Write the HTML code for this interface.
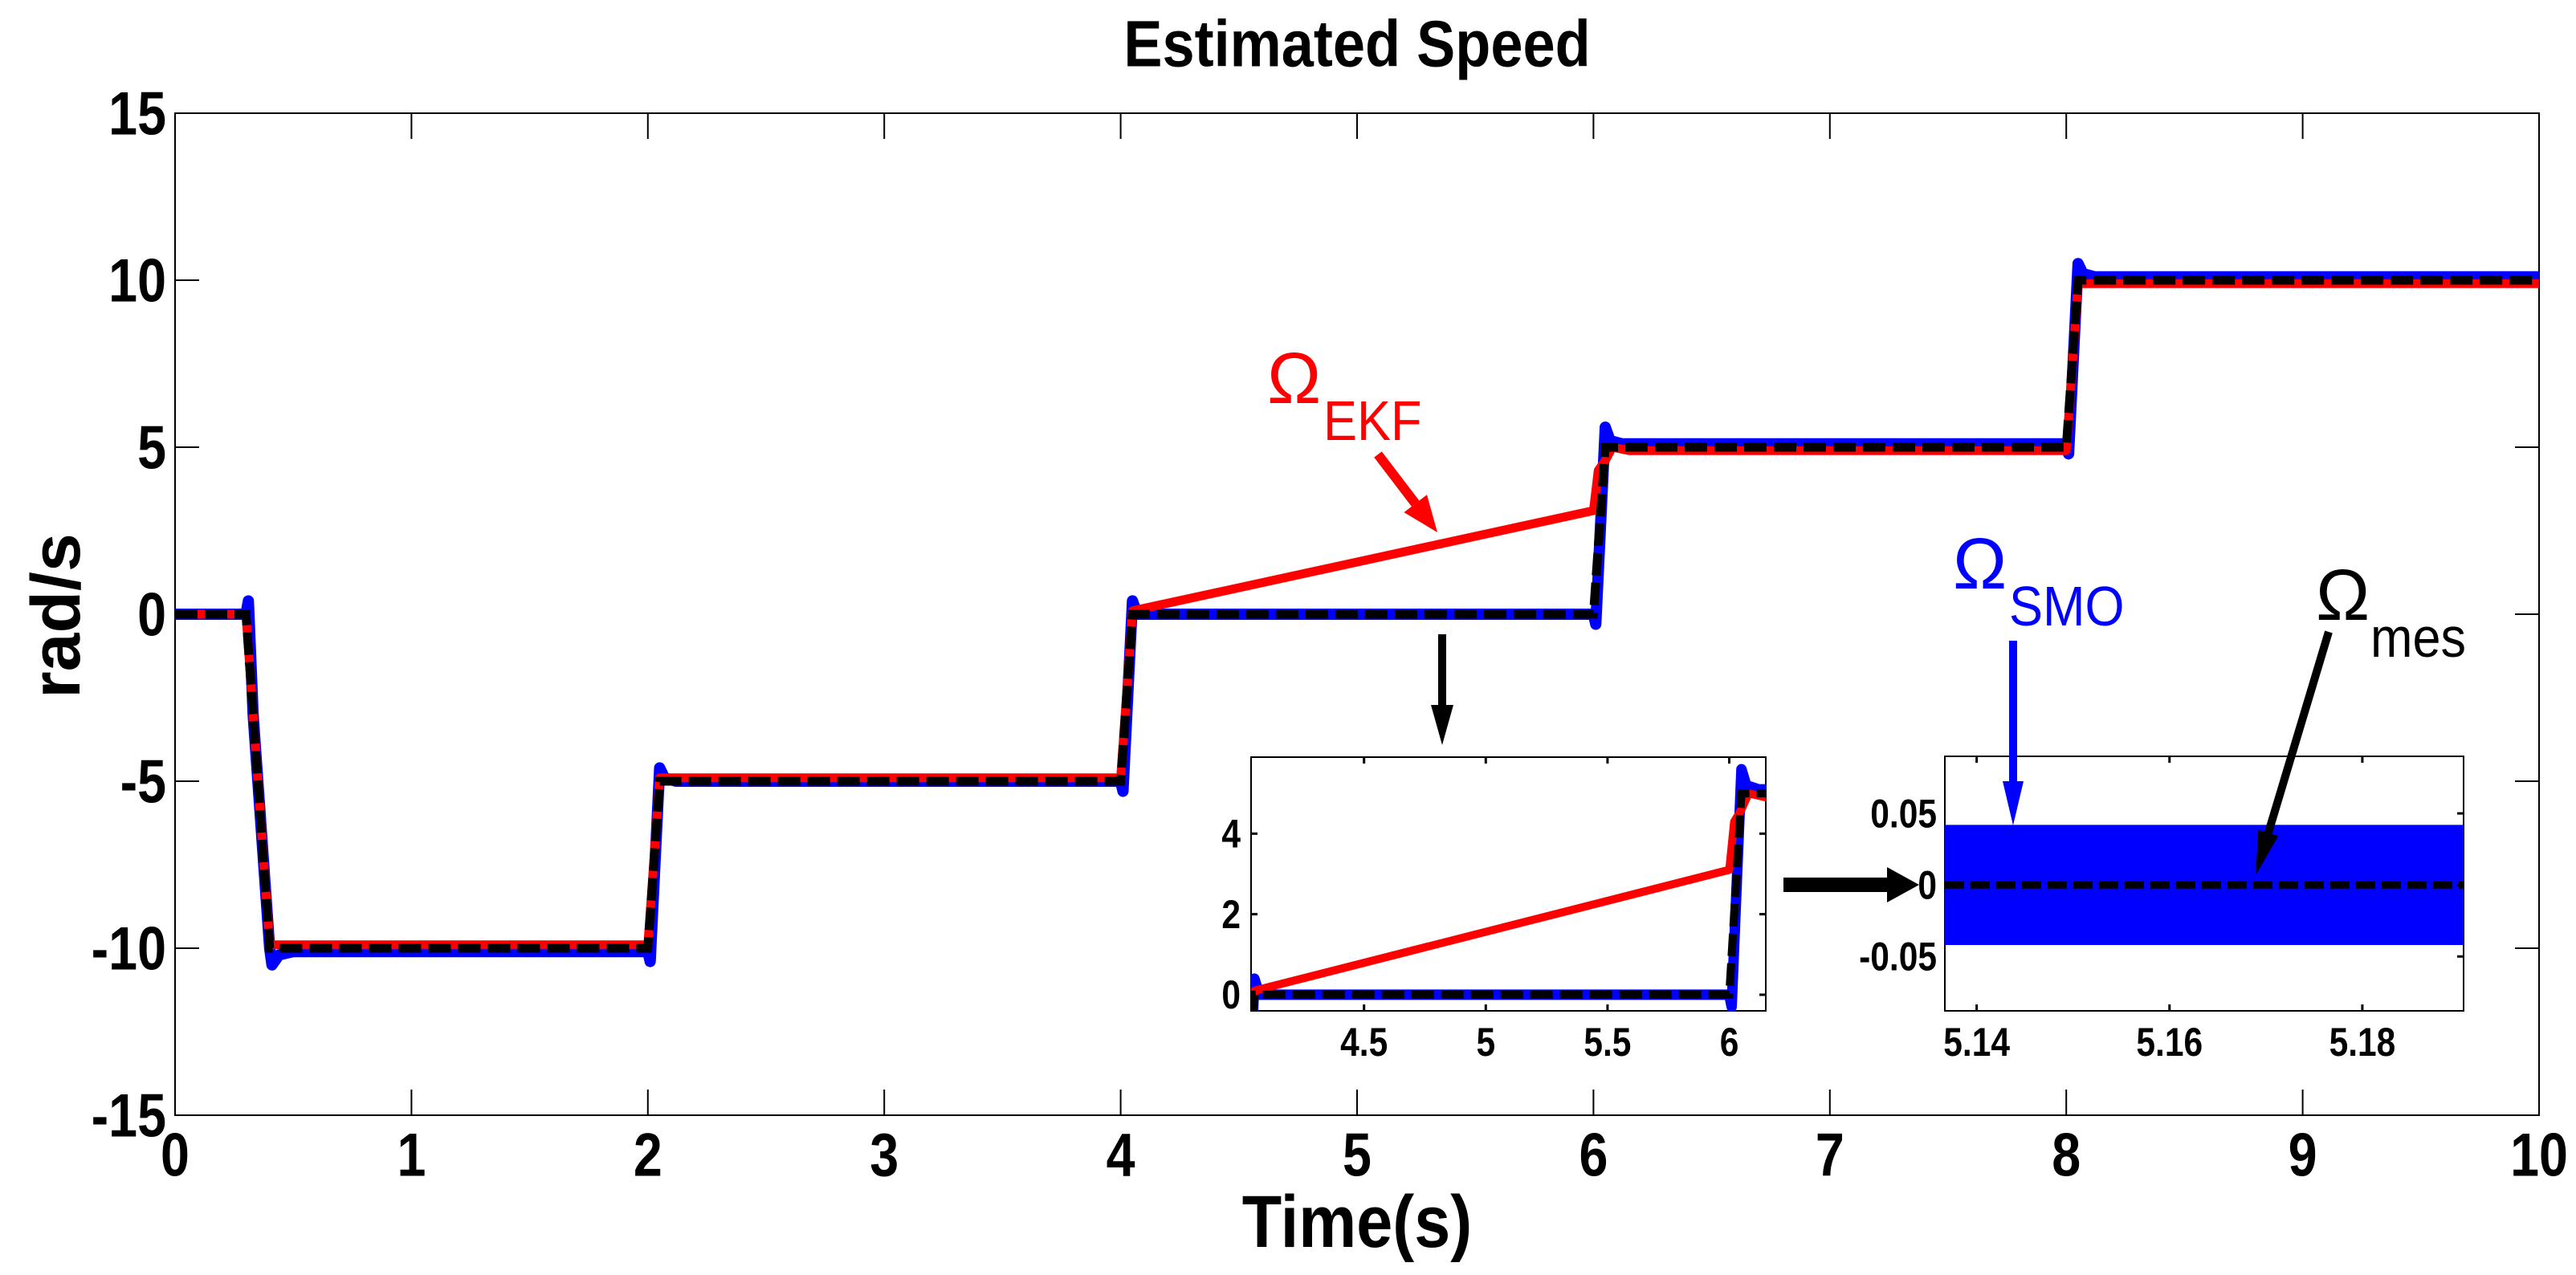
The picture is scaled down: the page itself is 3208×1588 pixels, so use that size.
<!DOCTYPE html>
<html><head><meta charset="utf-8"><style>
html,body{margin:0;padding:0;background:#fff;overflow:hidden;width:3208px;height:1588px;}
svg{display:block;}
text{font-family:"Liberation Sans",sans-serif;}
</style></head><body>
<svg id="chart" width="3208" height="1588" viewBox="0 0 3208 1588" xmlns="http://www.w3.org/2000/svg">
<rect width="3208" height="1588" fill="#fff"/>
<defs>
<clipPath id="clipMain"><rect x="218" y="141" width="2944" height="1248"/></clipPath>
<clipPath id="clipIn1"><rect x="1558" y="943" width="641" height="316"/></clipPath>
<clipPath id="clipIn2"><rect x="2422" y="942" width="646" height="317"/></clipPath>
</defs>
<g id="main"></g>
<g id="inset1"></g>
<g id="inset2"></g>
<g id="annot"></g>
</svg>
<script>
// ---- data ----
const mainXTicks = [0,1,2,3,4,5,6,7,8,9,10];
const mainYTicks = [-15,-10,-5,0,5,10,15];
const mesT = [0,0.30,0.40,2.00,2.05,4.00,4.05,6.00,6.05,8.00,8.05,10];
const mesV = [0,0,-10,-10,-5,-5,0,0,5,5,10,10];
const ekfT = [0,0.30,0.40,2.00,2.05,4.00,4.05,6.00,6.02,6.05,6.08,6.15,8.00,8.05,10];
const ekfV = [0,0,-9.9,-9.9,-4.9,-4.9,0.1,3.1,4.3,4.6,5.0,4.9,4.9,9.9,9.9];
const smoT = [0,0.30,0.31,0.33,0.40,0.41,0.44,0.50,2.00,2.01,2.05,2.07,2.12,4.00,4.01,4.05,4.07,4.12,6.00,6.01,6.05,6.07,6.12,8.00,8.01,8.05,8.07,8.12,10];
const smoV = [0,0,0.4,-3,-10,-10.5,-10.2,-10.1,-10.1,-10.4,-4.6,-4.9,-5,-5,-5.3,0.4,0,0,0,-0.3,5.6,5.2,5.1,5.1,4.8,10.5,10.2,10.1,10.1];
const in1XTicks = [4.5,5,5.5,6];
const in1XLabels = ["4.5","5","5.5","6"];
const in1YTicks = [0,2,4];
const in2XTicks = [5.14,5.16,5.18];
const in2XLabels = ["5.14","5.16","5.18"];
const in2YTicks = [-0.05,0,0.05];
const in2YLabels = ["-0.05","0","0.05"];
const smoBandHigh = [0.042];
const smoBandLow = [-0.042];
const in2MesValue = [0];

const NS="http://www.w3.org/2000/svg";
function mk(tag,attrs,parent){const e=document.createElementNS(NS,tag);for(const k in attrs)e.setAttribute(k,attrs[k]);parent.appendChild(e);return e;}
function lin(d0,d1,r0,r1){return v=>r0+(v-d0)*(r1-r0)/(d1-d0);}
function pathD(T,V,sx,sy){return T.map((t,i)=>(i?'L':'M')+sx(t).toFixed(1)+','+sy(V[i]).toFixed(1)).join('');}
function txt(parent,s,x,y,size,anchor,opts){
  opts=opts||{};
  const t=mk('text',{x:0,y:0,'font-size':size,'font-weight':opts.w||'bold','text-anchor':anchor,'dominant-baseline':'central',fill:opts.fill||'#000',transform:`translate(${x},${y}) scale(${opts.sx||0.85},1)`},parent);
  t.textContent=s;return t;
}

// ---- main axes ----
const main=document.getElementById('main');
const X0=218,X1=3162,Y0=1389,Y1=141;
const mx=lin(0,10,X0,X1), my=lin(-15,15,Y0,Y1);
mk('rect',{x:X0,y:Y1,width:X1-X0,height:Y0-Y1,fill:'none',stroke:'#000','stroke-width':2},main);
mainXTicks.forEach(v=>{
  const x=mx(v);
  const a=mk('line',{x1:x,y1:Y0,x2:x,y2:Y0-32,stroke:'#000','stroke-width':2},main);
  
  mk('line',{x1:x,y1:Y1,x2:x,y2:Y1+32,stroke:'#000','stroke-width':2},main);
  const t=txt(main,String(v),x,1438,76,'middle');
  
});
mainYTicks.forEach(v=>{
  const y=my(v);
  mk('line',{x1:X0,y1:y,x2:X0+30,y2:y,stroke:'#000','stroke-width':2},main);
  mk('line',{x1:X1,y1:y,x2:X1-30,y2:y,stroke:'#000','stroke-width':2},main);
  const t=txt(main,String(v),207,y,76,'end');
  
});
const gm=mk('g',{'clip-path':'url(#clipMain)'},main);
function drawSeries(g,sx,sy,w){
  const b=mk('path',{d:pathD(smoT,smoV,sx,sy),fill:'none',stroke:'#0000ff','stroke-width':w+4,'stroke-linejoin':'round'},g);
  
  const r=mk('path',{d:pathD(ekfT,ekfV,sx,sy),fill:'none',stroke:'#ff0000','stroke-width':w+1,'stroke-linejoin':'round'},g);
  
  const k=mk('path',{d:pathD(mesT,mesV,sx,sy),fill:'none',stroke:'#000','stroke-width':w+1,'stroke-dasharray':'28 9'},g);
  
}
drawSeries(gm,mx,my,10);

// titles
let t=txt(document.getElementById('chart'),'Estimated Speed',1690,55,82,'middle',{sx:0.88});

t=txt(document.getElementById('chart'),'Time(s)',1690,1522,92,'middle',{sx:0.88});

t=mk('text',{x:0,y:0,'font-size':86,'font-weight':'bold','text-anchor':'middle','dominant-baseline':'central',transform:'translate(70,767) rotate(-90) scale(1,1)'},document.getElementById('chart'));
t.textContent='rad/s';


// ---- inset 1 ----
const in1=document.getElementById('inset1');
const aX0=1558,aX1=2199,aY0=1259,aY1=943;
const ix=lin(4.036,6.15,aX0,aX1), iy=lin(-0.4,5.9,aY0,aY1);
mk('rect',{x:aX0,y:aY1,width:aX1-aX0,height:aY0-aY1,fill:'#fff',stroke:'#000','stroke-width':2},in1);
in1XTicks.forEach((v,i)=>{
  const x=ix(v);
  mk('line',{x1:x,y1:aY0,x2:x,y2:aY0-8,stroke:'#000','stroke-width':3},in1);
  mk('line',{x1:x,y1:aY1,x2:x,y2:aY1+8,stroke:'#000','stroke-width':3},in1);
  const l=txt(in1,in1XLabels[i],x,1298,50,'middle');
  
});
in1YTicks.forEach(v=>{
  const y=iy(v);
  mk('line',{x1:aX0,y1:y,x2:aX0+8,y2:y,stroke:'#000','stroke-width':3},in1);
  mk('line',{x1:aX1,y1:y,x2:aX1-8,y2:y,stroke:'#000','stroke-width':3},in1);
  const l=txt(in1,String(v),1545,y,50,'end');
  
});
const g1=mk('g',{'clip-path':'url(#clipIn1)'},in1);
drawSeries(g1,ix,iy,9);

// ---- inset 2 ----
const in2=document.getElementById('inset2');
const bX0=2422,bX1=3068,bY0=1259,bY1=942;
const jx=lin(5.1367,5.1905,bX0,bX1), jy=lin(-0.088,0.0899,bY0,bY1);
mk('rect',{x:bX0,y:bY1,width:bX1-bX0,height:bY0-bY1,fill:'#fff',stroke:'#000','stroke-width':2},in2);
const g2=mk('g',{'clip-path':'url(#clipIn2)'},in2);
const band=mk('rect',{x:bX0,y:jy(smoBandHigh[0]),width:bX1-bX0,height:jy(smoBandLow[0])-jy(smoBandHigh[0]),fill:'#0000ff'},g2);

const ml=mk('line',{x1:bX0,y1:jy(in2MesValue[0]),x2:bX1,y2:jy(in2MesValue[0]),stroke:'#000','stroke-width':9,'stroke-dasharray':'24 8'},g2);

in2XTicks.forEach((v,i)=>{
  const x=jx(v);
  mk('line',{x1:x,y1:bY0,x2:x,y2:bY0-8,stroke:'#000','stroke-width':3},in2);
  mk('line',{x1:x,y1:bY1,x2:x,y2:bY1+8,stroke:'#000','stroke-width':3},in2);
  const l=txt(in2,in2XLabels[i],x,1298,50,'middle');
  
});
in2YTicks.forEach((v,i)=>{
  const y=jy(v);
  mk('line',{x1:bX1,y1:y,x2:bX1-8,y2:y,stroke:'#000','stroke-width':3},in2);
  const l=txt(in2,in2YLabels[i],2412,y,50,'end');
  
});

// ---- annotations ----
const an=document.getElementById('annot');
function arrow(x1,y1,x2,y2,col,w,hl,hw,name){
  const dx=x2-x1,dy=y2-y1,L=Math.hypot(dx,dy),ux=dx/L,uy=dy/L;
  const bx=x2-ux*hl,by=y2-uy*hl;
  const l=mk('line',{x1:x1,y1:y1,x2:bx,y2:by,stroke:col,'stroke-width':w},an);
  
  mk('polygon',{points:`${x2},${y2} ${bx-uy*hw},${by+ux*hw} ${bx+uy*hw},${by-ux*hw}`,fill:col},an);
}
arrow(1716,566,1790,663,'#ff0000',12,45,18,'ekf-arrow');
arrow(1796,790,1796,928,'#000',10,50,14,'down-arrow');
arrow(2507,798,2507,1028,'#0000ff',10,55,13,'smo-arrow');
arrow(2900,787,2809,1090,'#000',10,55,13,'mes-arrow');
arrow(2221,1102,2390,1102,'#000',18,40,22,'right-arrow');
function omega(x,y,col,sub,subx,suby,name){
  const g=mk('g',{},an);
  
  const o=mk('text',{x:x,y:y,'font-size':90,fill:col,'font-family':'Liberation Serif, serif'},g);
  o.textContent='Ω';
  const s=mk('text',{x:0,y:0,'font-size':70,fill:col,transform:`translate(${subx},${suby}) scale(0.9,1)`},g);
  s.textContent=sub;
}
omega(1578,502,'#ff0000','EKF',1648,548,'ekf-label');
omega(2432,733,'#0000ff','SMO',2502,779,'smo-label');
omega(2884,772,'#000','mes',2952,818,'mes-label');
</script>
</body></html>
